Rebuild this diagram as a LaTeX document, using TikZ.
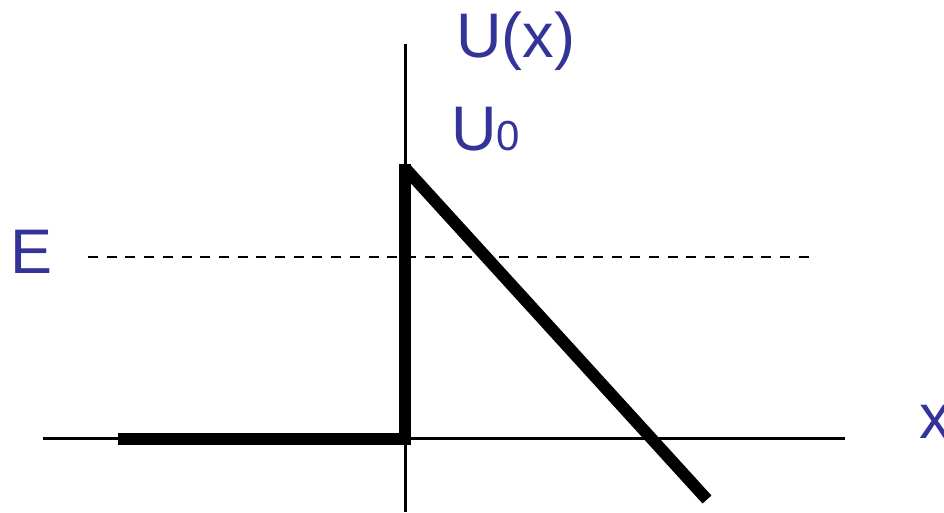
\documentclass[tikz,border=0pt]{standalone}
\usepackage{fontspec}
\setmainfont{Liberation Sans}
\definecolor{lblue}{RGB}{51,51,153}
\begin{document}
\begin{tikzpicture}[x=1pt,y=-1pt,
  axis/.style={line width=3pt},
  pot/.style={line width=12pt},
  energy/.style={line width=2pt,dash pattern=on 10pt off 8.7pt},
  lbl/.style={text=lblue,inner sep=0pt,anchor=base west,font=\fontsize{63}{63}\selectfont}]
\clip (0,0) rectangle (944,512);
% coordinates
\coordinate (xl) at (43,438.5);
\coordinate (xr) at (845,438.5);
\coordinate (yt) at (405.5,44);
\coordinate (yb) at (405.5,512);
\coordinate (p0) at (118,438.5);
\coordinate (p1) at (405,438.5);
\coordinate (p1b) at (405,444.5);
\coordinate (p2) at (405,164);
\coordinate (p3) at (405,168);
\coordinate (p4) at (707,499.5);
\coordinate (el) at (88,257);
\coordinate (er) at (810,257);
% axes
\draw[axis] (xl) -- (xr);
\draw[axis] (yt) -- (yb);
% energy level
\draw[energy] (el) -- (er);
% potential
\draw[pot] (p0) -- (p1);
\draw[pot] (p1b) -- (p2);
\draw[pot] (p3) -- (p4);
% labels
\node[lbl] (ux) at (456,57) {U(x)};
\node[lbl] (u0) at (451,150) {U\fontsize{42}{42}\selectfont 0};
\node[lbl] (e) at (10,273) {E};
\node[lbl] (xx) at (919,438) {x};
\end{tikzpicture}
\end{document}
